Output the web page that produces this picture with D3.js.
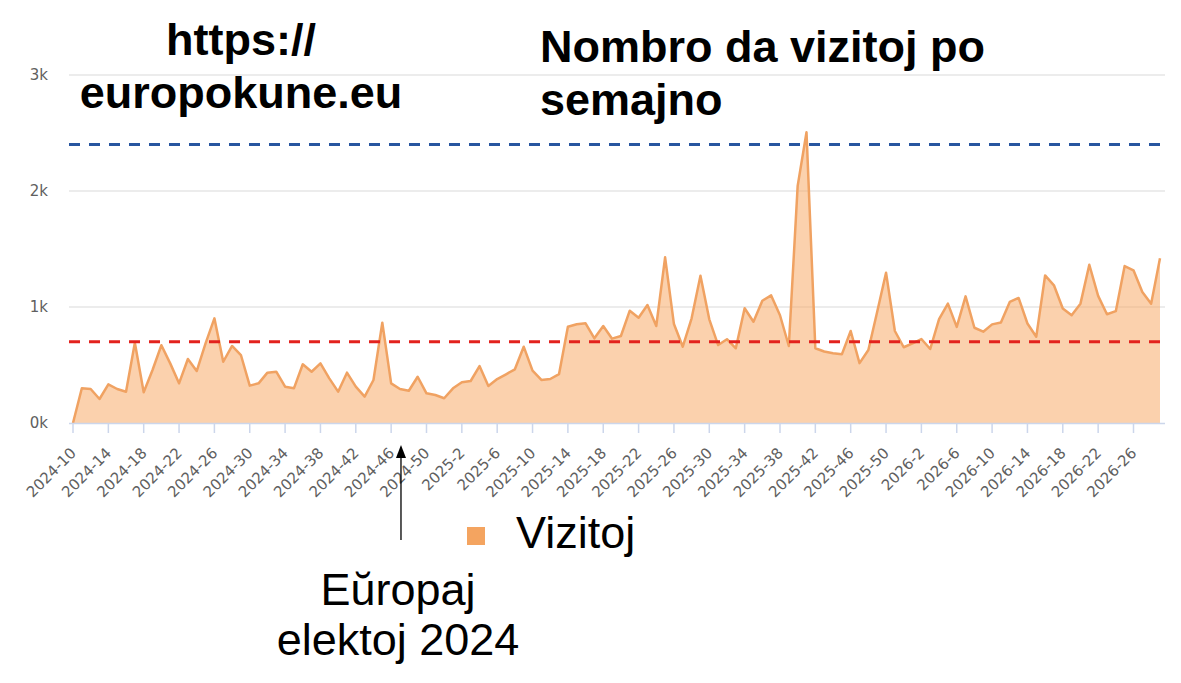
<!DOCTYPE html>
<html>
<head>
<meta charset="utf-8">
<script src="https://cdn.jsdelivr.net/npm/d3@7"></script>
<style>
  body { margin: 0; background: #fff; }
  svg { display: block; }
  .title { font-family: "Liberation Sans", Arial, sans-serif; font-weight: bold; font-size: 45px; fill: #000; }
  .big { font-family: "Liberation Sans", Arial, sans-serif; font-size: 45px; fill: #000; }
  .tick-label { font-family: "DejaVu Sans", Verdana, sans-serif; font-size: 15px; fill: #606060; }
</style>
</head>
<body>
<script>
// weekly spans: [year, first week, last week]
const yearSpans = [[2024, 10, 52], [2025, 1, 52], [2026, 1, 29]];
const weeks = [];
yearSpans.forEach(([y, a, b]) => { for (let w = a; w <= b; w++) weeks.push(`${y}-${w}`); });

// visitors per week
const visits = [
  0, 299, 293, 207, 333, 293, 270, 692, 265, 457,
  670, 514, 342, 552, 448, 687, 902, 528, 664, 586,
  322, 342, 434, 442, 313, 299, 506, 442, 514, 385,
  270, 434, 313, 227, 371, 865, 342, 293, 278, 399,
  256, 241, 213, 299, 351, 362, 491, 319, 379, 420,
  463, 658, 451, 371, 379, 422, 830, 851, 859, 730,
  836, 727, 750, 968, 908, 1017, 836, 1428, 853, 658,
  902, 1270, 894, 672, 722, 644, 989, 873, 1054, 1100,
  929, 664, 2044, 2507, 644, 616, 601, 592, 793, 516,
  629, 959, 1296, 793, 653, 687, 724, 638, 896, 1029,
  829, 1092, 821, 787, 850, 867, 1044, 1078, 858, 744,
  1272, 1187, 987, 929, 1029, 1364, 1096, 938, 964, 1353,
  1316, 1129, 1029, 1421
];

const refLines = [
  { value: 2400, color: "#2856a0" },
  { value: 700, color: "#e3221d" }
];
const yTicks = [0, 1000, 2000, 3000];
const xTickEvery = 4;

const titleLeft = ["https://", "europokune.eu"];
const titleRight = ["Nombro da vizitoj po", "semajno"];
const legendLabel = "Vizitoj";
const noteLines = ["Eŭropaj", "elektoj 2024"];
const noteWeek = "2024-47";

const width = 1181, height = 683;
const plot = { left: 69, right: 1165, top: 75, bottom: 423 };

const svg = d3.select("body").append("svg")
  .attr("width", width)
  .attr("height", height);

const x = d3.scalePoint()
  .domain(weeks)
  .range([73, 1160]);

const y = d3.scaleLinear()
  .domain([0, 3000])
  .range([plot.bottom, plot.top]);

// gridlines
svg.append("g")
  .selectAll("line")
  .data(yTicks.filter(d => d > 0))
  .join("line")
    .attr("x1", plot.left)
    .attr("x2", plot.right)
    .attr("y1", d => y(d))
    .attr("y2", d => y(d))
    .attr("stroke", "#e6e6e6")
    .attr("stroke-width", 1.5);

// y labels
svg.append("g")
  .selectAll("text")
  .data(yTicks)
  .join("text")
    .attr("class", "tick-label")
    .attr("x", 48)
    .attr("y", d => y(d))
    .attr("dy", "0.35em")
    .attr("text-anchor", "end")
    .text(d => `${d / 1000}k`);

// area + line
const area = d3.area()
  .x((d, i) => x(weeks[i]))
  .y0(y(0))
  .y1(d => y(d));
const line = d3.line()
  .x((d, i) => x(weeks[i]))
  .y(d => y(d));

svg.append("path")
  .datum(visits)
  .attr("d", area)
  .attr("fill", "#f7a35c")
  .attr("fill-opacity", 0.5);

svg.append("path")
  .datum(visits)
  .attr("d", line)
  .attr("fill", "none")
  .attr("stroke", "#f0a262")
  .attr("stroke-width", 2.5)
  .attr("stroke-linejoin", "round");

// reference lines
svg.append("g")
  .selectAll("line")
  .data(refLines)
  .join("line")
    .attr("x1", plot.left)
    .attr("x2", 1160)
    .attr("y1", d => y(d.value))
    .attr("y2", d => y(d.value))
    .attr("stroke", d => d.color)
    .attr("stroke-width", 3)
    .attr("stroke-dasharray", "11,9");

// x axis
const xAxis = svg.append("g");
xAxis.append("line")
  .attr("x1", plot.left)
  .attr("x2", plot.right)
  .attr("y1", plot.bottom + 0.5)
  .attr("y2", plot.bottom + 0.5)
  .attr("stroke", "#ccd6eb")
  .attr("stroke-width", 1.5);

const tickWeeks = weeks.filter((d, i) => i % xTickEvery === 0);
xAxis.selectAll(".tick")
  .data(tickWeeks)
  .join("line")
    .attr("class", "tick")
    .attr("x1", d => x(d))
    .attr("x2", d => x(d))
    .attr("y1", plot.bottom)
    .attr("y2", plot.bottom + 10)
    .attr("stroke", "#ccd6eb")
    .attr("stroke-width", 1.5);

xAxis.selectAll(".xl")
  .data(tickWeeks)
  .join("text")
    .attr("class", "tick-label xl")
    .attr("text-anchor", "end")
    .attr("transform", d => `translate(${x(d) + 4},${plot.bottom + 31}) rotate(-45)`)
    .text(d => d);

// titles
svg.append("text")
  .attr("class", "title")
  .attr("text-anchor", "middle")
  .selectAll("tspan")
  .data(titleLeft)
  .join("tspan")
    .attr("x", 241)
    .attr("y", (d, i) => 55 + i * 53)
    .text(d => d);

svg.append("text")
  .attr("class", "title")
  .selectAll("tspan")
  .data(titleRight)
  .join("tspan")
    .attr("x", 540)
    .attr("y", (d, i) => 62 + i * 53)
    .text(d => d);

// legend
svg.append("rect")
  .attr("x", 467)
  .attr("y", 527)
  .attr("width", 18)
  .attr("height", 18)
  .attr("fill", "#f4a460");
svg.append("text")
  .attr("class", "big")
  .attr("x", 516)
  .attr("y", 548)
  .text(legendLabel);

// annotation arrow
const ax = x(noteWeek) + 1;
svg.append("line")
  .attr("x1", ax).attr("x2", ax)
  .attr("y1", 540).attr("y2", 455)
  .attr("stroke", "#000")
  .attr("stroke-width", 1.3);
svg.append("path")
  .attr("d", `M${ax},445 L${ax - 5},458 L${ax + 5},458 Z`)
  .attr("fill", "#000");

svg.append("text")
  .attr("class", "big")
  .attr("text-anchor", "middle")
  .selectAll("tspan")
  .data(noteLines)
  .join("tspan")
    .attr("x", 398)
    .attr("y", (d, i) => 605 + i * 50)
    .text(d => d);
</script>
</body>
</html>
